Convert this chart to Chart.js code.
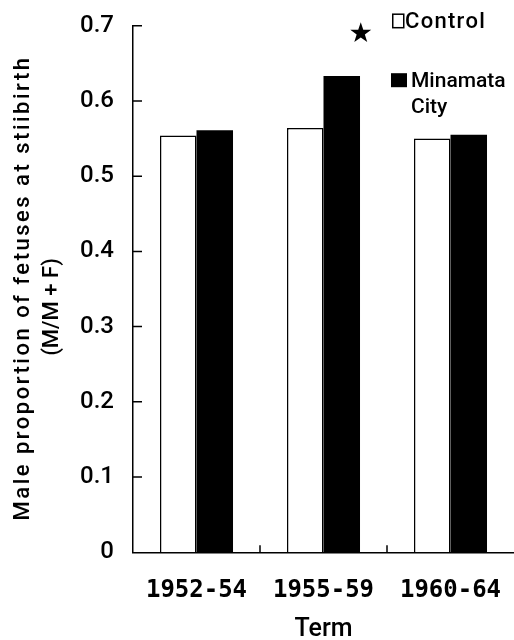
<!DOCTYPE html>
<html><head><meta charset="utf-8">
<script src="https://cdn.jsdelivr.net/npm/chart.js@4.4.1/dist/chart.umd.min.js"></script>
<style>html,body{margin:0;padding:0;background:#fff;}canvas{display:block}</style>
</head><body>
<canvas id="c" width="514" height="640"></canvas>
<script>
const categories = ['1952-54', '1955-59', '1960-64'];
const controlValues = [0.554, 0.564, 0.550];
const minamataValues = [0.561, 0.633, 0.555];
const seriesNames = ['Control', 'Minamata City'];
const legendLines = [['Control'], ['Minamata', 'City']];
const yTickLabels = ['0', '0.1', '0.2', '0.3', '0.4', '0.5', '0.6', '0.7'];
const yAxisTitle = ['Male proportion of fetuses at stiibirth', '(M/M + F)'];
const xAxisTitle = 'Term';
const starCategory = 1;
const starValue = 0.69;

const SANS = 'Roboto, "Liberation Sans", Arial, sans-serif';
const MONO = '"DejaVu Sans Mono", monospace';

function drawStar(ctx, cx, cy, R, r) {
  ctx.beginPath();
  for (let k = 0; k < 10; k++) {
    const ang = -Math.PI / 2 + k * Math.PI / 5;
    const rad = k % 2 ? r : R;
    ctx.lineTo(cx + rad * Math.cos(ang), cy + rad * Math.sin(ang));
  }
  ctx.closePath();
  ctx.fill();
}

const decor = {
  id: 'decor',
  afterDatasetsDraw(chart) {
    const { ctx, scales: { x, y }, chartArea: a } = chart;
    ctx.save();
    ctx.strokeStyle = '#000';
    ctx.fillStyle = '#000';
    ctx.lineWidth = 1.5;
    ctx.beginPath();
    y.ticks.forEach((t, i) => {
      if (i === 0) return;
      const py = y.getPixelForValue(t.value);
      ctx.moveTo(a.left, py);
      ctx.lineTo(a.left + 9, py);
    });
    for (let i = 0; i < categories.length - 1; i++) {
      const px = (x.getPixelForValue(i) + x.getPixelForValue(i + 1)) / 2;
      ctx.moveTo(px, a.bottom);
      ctx.lineTo(px, a.bottom - 7);
    }
    ctx.stroke();
    const bar = chart.getDatasetMeta(1).data[starCategory];
    drawStar(ctx, bar.x + 19, y.getPixelForValue(starValue), 11, 4.3);
    const lx = a.right - 122;
    ctx.lineWidth = 1.5;
    ctx.strokeRect(lx + 0.75, a.top - 11.5, 11, 13.5);
    ctx.fillRect(lx - 1, a.top + 47.5, 16, 14);
    ctx.font = '500 22px ' + SANS;
    ctx.textAlign = 'left';
    ctx.textBaseline = 'alphabetic';
    ctx.letterSpacing = '1.3px';
    ctx.fillText(legendLines[0][0], lx + 13, a.top + 2.5);
    ctx.letterSpacing = '0px';
    ctx.font = '500 21px ' + SANS;
    ctx.fillText(legendLines[1][0], lx + 19, a.top + 61);
    ctx.fillText(legendLines[1][1], lx + 19, a.top + 87);
    ctx.font = '500 22px ' + SANS;
    const cy = (a.top + a.bottom) / 2;
    ctx.textAlign = 'center';
    ctx.textBaseline = 'middle';
    ctx.save();
    ctx.translate(23, cy - 1);
    ctx.rotate(-Math.PI / 2);
    ctx.letterSpacing = '2.5px';
    ctx.fillText(yAxisTitle[0], 0, 0);
    ctx.restore();
    ctx.save();
    ctx.translate(52, cy + 18);
    ctx.rotate(-Math.PI / 2);
    ctx.letterSpacing = '0px';
    ctx.fillText(yAxisTitle[1], 0, 0);
    ctx.restore();
    ctx.restore();
  }
};

new Chart(document.getElementById('c'), {
  type: 'bar',
  data: {
    labels: categories,
    datasets: [
      { label: seriesNames[0], data: controlValues, backgroundColor: '#fff', borderColor: '#000', borderWidth: 1.5,
        categoryPercentage: 0.575, barPercentage: 1.0 },
      { label: seriesNames[1], data: minamataValues, backgroundColor: '#000', borderColor: '#000', borderWidth: 0,
        categoryPercentage: 0.575, barPercentage: 1.0 }
    ]
  },
  options: {
    responsive: false,
    animation: false,
    devicePixelRatio: 1,
    layout: { padding: { top: 25.7, right: 0, bottom: 0, left: 0 } },
    plugins: { legend: { display: false }, tooltip: { enabled: false } },
    scales: {
      x: {
        grid: { display: false, drawTicks: false },
        border: { display: true, color: '#000', width: 1.5 },
        ticks: { color: '#000', font: { family: MONO, size: 24, weight: 'bold' }, padding: 23.6, maxRotation: 0 },
        title: { display: true, text: xAxisTitle, color: '#000', font: { family: SANS, size: 25, weight: '500', lineHeight: 0.8 }, padding: 0 },
        afterFit(s) { s.height = 87.7; s.paddingLeft = 0; s.paddingRight = 0; }
      },
      y: {
        min: 0, max: 0.7,
        grid: { display: false, drawTicks: false },
        border: { display: true, color: '#000', width: 1.5 },
        ticks: { stepSize: 0.1, color: '#000', font: { family: SANS, size: 24, weight: '500' }, padding: 19,
          callback: (v, i) => yTickLabels[i] },
        afterFit(s) { s.width = 133; s.paddingTop = 0; s.paddingBottom = 0; }
      }
    }
  },
  plugins: [decor]
});
</script>
</body></html>
